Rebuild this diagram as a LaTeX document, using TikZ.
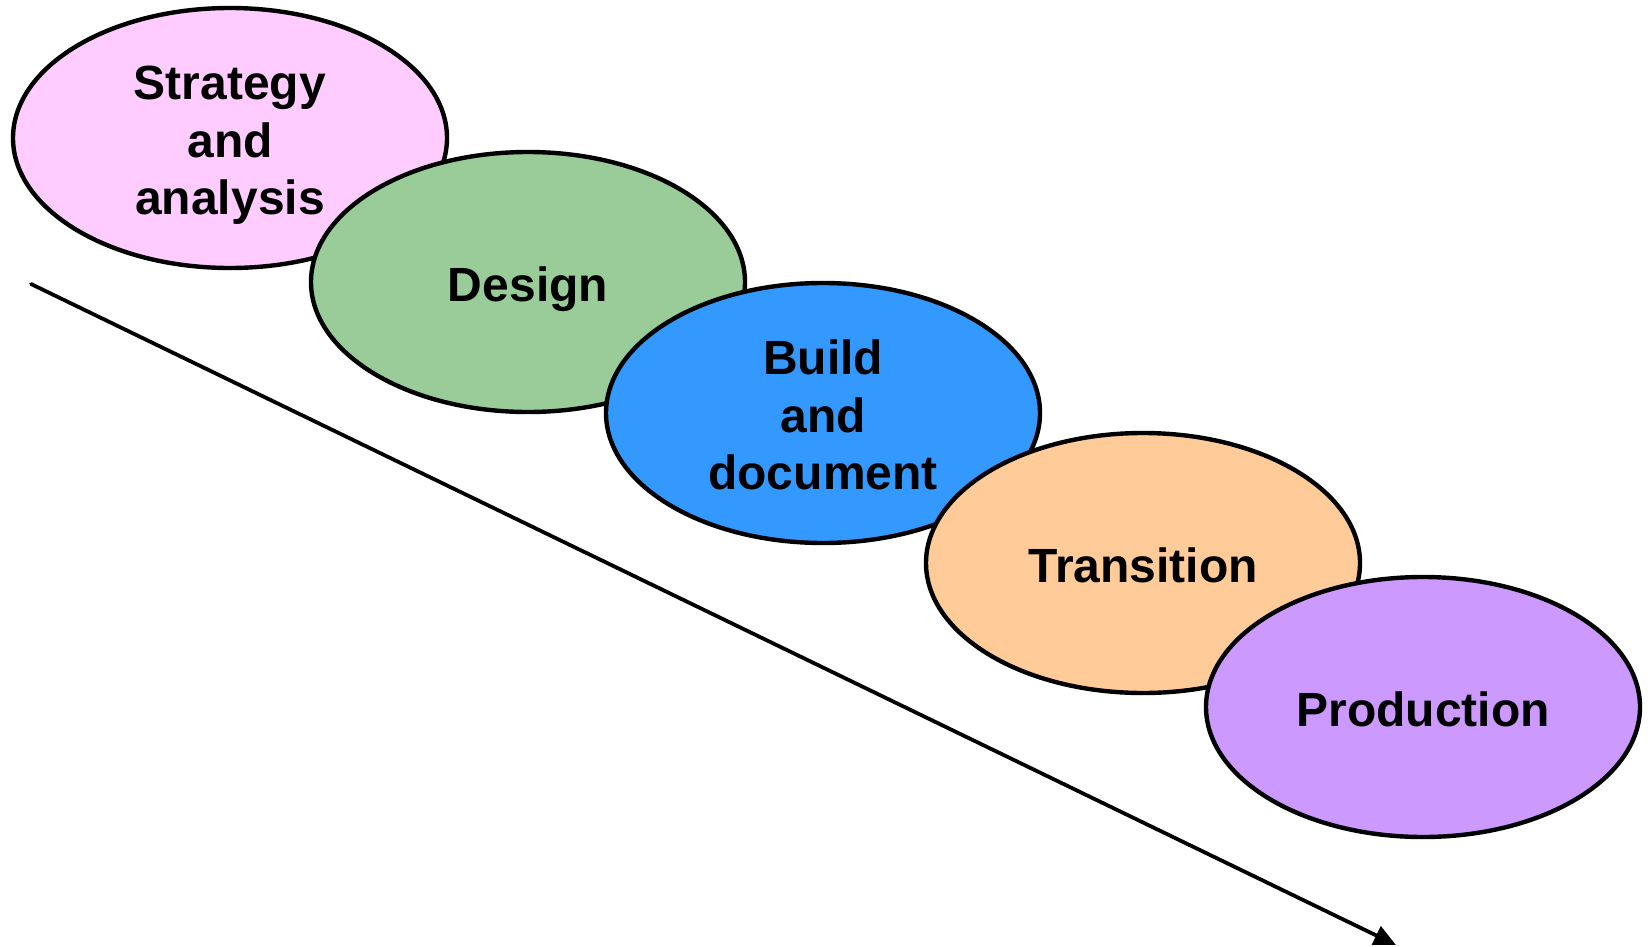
\documentclass[tikz,border=0pt]{standalone}
\usepackage{fontspec}
\setmainfont{Liberation Sans}
\usetikzlibrary{shapes.geometric,arrows.meta}
\definecolor{rose}{HTML}{FFCCFF}
\definecolor{vert}{HTML}{99CC99}
\definecolor{bleu}{HTML}{3399FF}
\definecolor{peche}{HTML}{FFCC99}
\definecolor{mauve}{HTML}{CC99FF}
\begin{document}
\begin{tikzpicture}[x=0.5pt, y=-0.5pt,
    phase/.style={ellipse, draw=black, line width=2.2pt, minimum width=217pt,
        minimum height=130pt, inner sep=0pt, align=center,
        font=\fontsize{24}{28.7}\selectfont\bfseries},
    uneligne/.style={text height=24pt, text depth=4.8pt},
    troislignes/.style={text height=81.4pt, text depth=4.8pt}]
    \useasboundingbox (0,0) rectangle (1648,947);

    % Fleche du temps
    \coordinate (debut) at (31,284);
    \coordinate (fin) at (1396,945);
    \draw[line width=1.9pt, line cap=round, -{Triangle[length=11pt, width=10pt]}] (debut) -- (fin);

    % Phases
    \node[phase, troislignes, fill=rose] (strat) at (230,138) {Strategy\\and\\analysis};
    \node[phase, uneligne, fill=vert] (design) at (528,282) {Design};
    \node[phase, troislignes, fill=bleu] (build) at (823,413) {Build\\and\\document};
    \node[phase, uneligne, fill=peche] (trans) at (1143,563) {Transition};
    \node[phase, uneligne, fill=mauve] (prod) at (1423,707) {Production};
\end{tikzpicture}
\end{document}
